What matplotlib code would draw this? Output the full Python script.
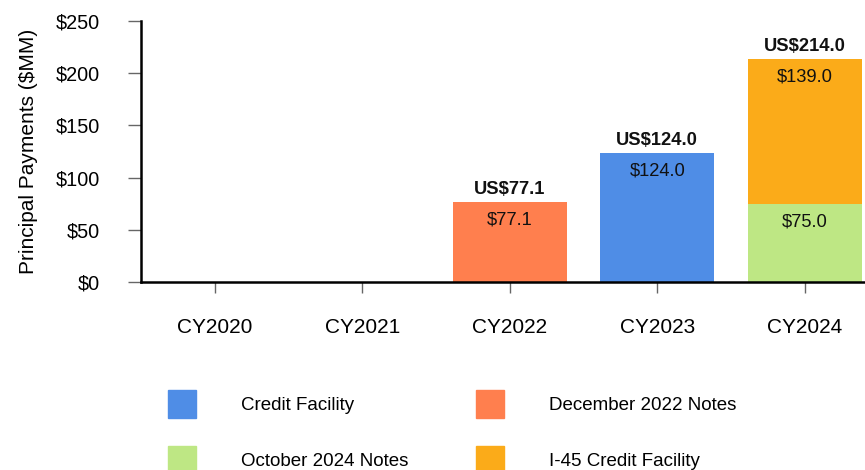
import matplotlib
matplotlib.use("Agg")
import matplotlib.pyplot as plt
import numpy as np
from matplotlib.patches import Patch

plt.rcParams['font.family'] = ['Liberation Sans', 'DejaVu Sans']

years = ['CY2020', 'CY2021', 'CY2022', 'CY2023', 'CY2024']
credit_facility = [0, 0, 0, 124.0, 0]
dec_2022_notes = [0, 0, 77.1, 0, 0]
oct_2024_notes = [0, 0, 0, 0, 75.0]
i45_facility = [0, 0, 0, 0, 139.0]

series = [
    ('Credit Facility', credit_facility, '#4f8de6'),
    ('December 2022 Notes', dec_2022_notes, '#ff7f4e'),
    ('October 2024 Notes', oct_2024_notes, '#bee784'),
    ('I-45 Credit Facility', i45_facility, '#fbab19'),
]

fig = plt.figure(figsize=(8.65, 4.70), dpi=100)
ax = fig.add_axes([141 / 865, 1 - 282 / 470, 737.5 / 865, 261 / 470])

x = np.arange(len(years))
bottom = np.zeros(len(years))
for name, vals, col in series:
    vals = np.array(vals)
    ax.bar(x, vals, 0.775, bottom=bottom, color=col, label=name, zorder=2)
    for xi, v, b in zip(x, vals, bottom):
        if v > 0:
            ax.annotate(f'${v:.1f}', (xi, b + v), xytext=(0, -13.5), textcoords='offset points',
                        ha='center', va='center', fontsize=13.2, color='#111111')
    bottom = bottom + vals

# totals on top
for xi, tot in zip(x, bottom):
    if tot > 0:
        ax.annotate(f'US${tot:.1f}', (xi, tot), xytext=(0, 9), textcoords='offset points',
                    ha='center', va='center', fontsize=13.2, fontweight='bold', color='#111111')

ax.set_xlim(-0.5, 4.5)
ax.set_ylim(0, 250)
ax.set_xticks(x)
ax.set_xticklabels(years, fontsize=15)
ax.set_yticks([0, 50, 100, 150, 200, 250])
ax.set_yticklabels(['$0', '$50', '$100', '$150', '$200', '$250'], fontsize=14.3)
ax.tick_params(axis='y', length=9.5, width=1, color='#666666', pad=20)
ax.tick_params(axis='x', length=8, width=1, color='#666666', pad=18)
for s in ['top', 'right']:
    ax.spines[s].set_visible(False)
for s in ['left', 'bottom']:
    ax.spines[s].set_linewidth(1.8)
    ax.spines[s].set_color('black')
    ax.spines[s].set_zorder(3)
ax.set_ylabel('Principal Payments ($MM)', fontsize=15, labelpad=13)

handles = [Patch(color=series[i][2], label=series[i][0]) for i in [0, 2, 1, 3]]
fig.legend(handles=handles, ncol=2, loc='upper left', bbox_to_anchor=(168 / 865, 1 - 390 / 470),
           frameon=False, fontsize=13.5, handlelength=1.49, handleheight=1.92,
           handletextpad=2.4, columnspacing=3.62, labelspacing=1.49,
           borderpad=0, borderaxespad=0)

fig.savefig('out.png', dpi=100)
